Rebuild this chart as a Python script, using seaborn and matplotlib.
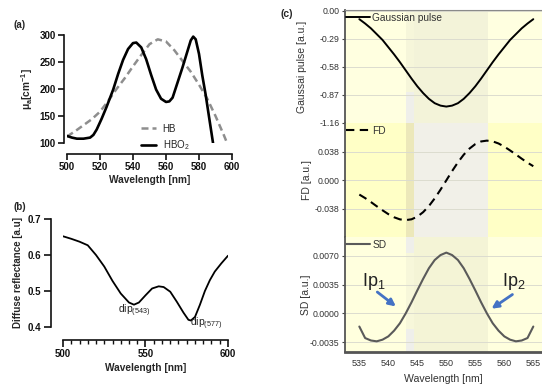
import matplotlib
matplotlib.use('Agg')
import matplotlib.pyplot as plt
import seaborn as sns
from matplotlib.lines import Line2D

sns.set_style('ticks')
plt.rcParams['font.family'] = ['Liberation Sans', 'DejaVu Sans']
plt.rcParams['mathtext.fontset'] = 'custom'
plt.rcParams['mathtext.rm'] = 'Liberation Sans'
plt.rcParams['mathtext.it'] = 'Liberation Sans:italic'
plt.rcParams['mathtext.bf'] = 'Liberation Sans:bold'

# ---------------- data ----------------
# (a) absorption spectra
hb_wl = [500, 505, 510, 515, 520, 525, 530, 535, 540, 545, 550, 555, 560, 565, 570, 575, 580, 585, 590, 595, 597]
hb_mua = [112, 122, 133, 144, 158, 178, 200, 220, 242, 263, 283, 292, 288, 272, 252, 232, 208, 182, 150, 115, 100]
hbo2_wl = [500, 503, 506, 510, 514, 516, 518, 521, 524, 528, 531, 534, 537, 540, 542, 545, 548, 551, 554, 557,
           560, 562, 564, 567, 570, 573, 575, 576.5, 578, 580, 582, 584, 586, 588, 588.5]
hbo2_mua = [113, 110, 108, 108, 110, 115, 125, 145, 167, 199, 228, 254, 274, 285, 286, 277, 255, 226, 199, 182,
            176, 177, 184, 212, 240, 270, 290, 297, 292, 265, 225, 190, 150, 110, 100]

# (b) diffuse reflectance
refl_wl = [500, 505, 510, 515, 520, 525, 530, 535, 540, 543, 546, 550, 554, 558, 561, 565, 569, 573, 576,
           577.5, 580, 583, 586, 589, 592, 596, 600]
refl_val = [0.652, 0.645, 0.637, 0.627, 0.600, 0.568, 0.528, 0.493, 0.468, 0.462, 0.468, 0.488, 0.507, 0.513,
            0.511, 0.498, 0.470, 0.440, 0.420, 0.418, 0.428, 0.462, 0.500, 0.530, 0.554, 0.577, 0.598]

# (c) pulse and derivatives
c_wl = list(range(535, 566))
gauss = [-0.085, -0.13, -0.18, -0.24, -0.30, -0.375, -0.45, -0.53, -0.615, -0.70, -0.78, -0.85, -0.91, -0.955,
         -0.98, -0.99, -0.98, -0.955, -0.91, -0.85, -0.78, -0.70, -0.615, -0.53, -0.45, -0.375, -0.30, -0.24,
         -0.18, -0.13, -0.085]
fd = [-0.0189, -0.0236, -0.0289, -0.0345, -0.0399, -0.0450, -0.0492, -0.0520, -0.0530, -0.0519, -0.0484,
      -0.0424, -0.0342, -0.0240, -0.0124, 0.0, 0.0124, 0.0240, 0.0342, 0.0424, 0.0484, 0.0519, 0.0530, 0.0520,
      0.0492, 0.0450, 0.0399, 0.0345, 0.0289, 0.0236, 0.0189]
sd = [-0.0016, -0.0030, -0.0033, -0.0034, -0.0032, -0.0028, -0.0021, -0.0012, 0.0, 0.00135, 0.0028, 0.0042,
      0.0055, 0.0065, 0.0071, 0.0074, 0.0071, 0.0065, 0.0055, 0.0042, 0.0028, 0.00135, 0.0, -0.0012, -0.0021,
      -0.0028, -0.0032, -0.0034, -0.0033, -0.0030, -0.0016]

g_ticks = [-1.16, -0.87, -0.58, -0.29, 0.00]
g_labels = ['-1.16', '-0.87', '-0.58', '-0.29', '0.00']
fd_ticks = [-0.038, 0.0, 0.038]
fd_labels = ['-0.038', '0.000', '0.038']
sd_ticks = [-0.0035, 0.0, 0.0035, 0.0070]
sd_labels = ['-0.0035', '0.0000', '0.0035', '0.0070']
c_xticks = [535, 540, 545, 550, 555, 560, 565]

W, H = 542, 390
fig = plt.figure(figsize=(W / 100, H / 100), dpi=100)


def px_axes(left, top, right, bottom):
    return fig.add_axes([left / W, 1 - bottom / H, (right - left) / W, (bottom - top) / H])


bold = dict(fontweight='bold')
dark = '#111111'

# ---------------- panel (a) ----------------
axa = px_axes(67, 35, 232, 143)
sns.lineplot(x=hb_wl, y=hb_mua, ax=axa, color='#8e8e8e', lw=1.8, linestyle=(0, (2.8, 1.6)), sort=False)
sns.lineplot(x=hbo2_wl, y=hbo2_mua, ax=axa, color='black', lw=1.9, sort=False)
axa.set_xlim(500, 600)
axa.set_ylim(100, 300)
axa.set_xticks([500, 520, 540, 560, 580, 600])
axa.set_yticks([100, 150, 200, 250, 300])
for s in ['top', 'right']:
    axa.spines[s].set_visible(False)
axa.spines['bottom'].set_position(('outward', 8))
axa.spines['left'].set_position(('outward', 2))
for s in ['bottom', 'left']:
    axa.spines[s].set_linewidth(1.2)
    axa.spines[s].set_color(dark)
axa.tick_params(length=4, width=1.2, labelsize=7, pad=2, colors=dark)
for lab in axa.get_xticklabels() + axa.get_yticklabels():
    lab.set_fontweight('bold')
axa.set_xlabel('Wavelength [nm]', fontsize=7.3, labelpad=2, **bold)
axa.set_ylabel('μ$_\\mathbf{a}$[cm$^\\mathbf{-1}$]', fontsize=7.3, labelpad=3, **bold)
hdl = [Line2D([], [], color='#8e8e8e', lw=1.8, linestyle=(0, (2.8, 1.6))),
       Line2D([], [], color='black', lw=1.9)]
axa.legend(hdl, ['HB', 'HBO$_2$'], loc='upper left', bbox_to_anchor=(0.45, 0.18), frameon=False,
           fontsize=7, handlelength=1.5, handletextpad=0.7, labelspacing=0.45, borderaxespad=0, borderpad=0)
fig.text(14 / W, 1 - 25 / H, '(a)', fontsize=7, va='center', ha='left', **bold)

# ---------------- panel (b) ----------------
axb = px_axes(63, 219, 228, 327)
sns.lineplot(x=refl_wl, y=refl_val, ax=axb, color='black', lw=1.3, sort=False)
axb.set_xlim(500, 600)
axb.set_ylim(0.4, 0.7)
axb.set_xticks([500, 550, 600])
axb.set_xticks(list(range(505, 600, 5)), minor=True)
axb.set_yticks([0.4, 0.5, 0.6, 0.7])
for s in ['top', 'right']:
    axb.spines[s].set_visible(False)
axb.spines['bottom'].set_position(('outward', 9))
axb.spines['left'].set_position(('outward', 9))
for s in ['bottom', 'left']:
    axb.spines[s].set_linewidth(1.2)
    axb.spines[s].set_color(dark)
axb.tick_params(which='major', length=5, width=1.2, labelsize=7, pad=2, colors=dark)
axb.tick_params(which='minor', length=3, width=1.0, colors=dark)
for lab in axb.get_xticklabels() + axb.get_yticklabels():
    lab.set_fontweight('bold')
axb.set_xlabel('Wavelength [nm]', fontsize=7.3, labelpad=3, **bold)
axb.set_ylabel('Diffuse reflectance [a.u]', fontsize=7, labelpad=3, **bold)
axb.text(533.5, 0.446, 'dip$_{(543)}$', fontsize=7.5, color='#222222', va='center', ha='left')
axb.text(577.0, 0.408, 'dip$_{(577)}$', fontsize=7.5, color='#222222', va='center', ha='left')
fig.text(14 / W, 1 - 207 / H, '(b)', fontsize=7, va='center', ha='left', **bold)

# ---------------- panel (c) ----------------
xl, xr = 532.53, 566.5
axg = px_axes(345, 10, 542, 123)
axf = px_axes(345, 123, 542, 237)
axs = px_axes(345, 237, 542, 352)
b1, b2, b3 = 543.0, 544.5, 557.2
spans = [(xl, b1), (b1, b2), (b2, b3), (b3, xr)]
bg = {
    'g': ['#FFFFE0', '#F6F6DA', '#F3F3D9', '#FFFFE0'],
    'f': ['#FFFFC6', '#ECE8BA', '#F1F0E8', '#FFFFC6'],
    's': ['#FFFFDE', '#F7F7DA', '#F4F4D6', '#FFFFDE'],
}
for ax, key in [(axg, 'g'), (axf, 'f'), (axs, 's')]:
    for (a0, a1), col in zip(spans, bg[key]):
        ax.axvspan(a0, a1, color=col, lw=0, zorder=0)
axg.axvspan(b1, b2, ymin=0, ymax=0.27, color='#EFEFEA', lw=0, zorder=0)
axs.axvspan(b1, b2, ymin=0.86, ymax=1, color='#EFEFEA', lw=0, zorder=0)
axs.axvspan(b1, b2, ymin=0, ymax=0.2, color='#EFEFEA', lw=0, zorder=0)

sns.lineplot(x=c_wl, y=gauss, ax=axg, color='black', lw=1.4, zorder=3)
sns.lineplot(x=c_wl, y=fd, ax=axf, color='black', lw=1.5, linestyle=(0, (4, 2.6)), zorder=3)
sns.lineplot(x=c_wl, y=sd, ax=axs, color='#5a5a5a', lw=1.5, zorder=3)

axg.set_ylim(-1.16, 0.01)
axf.set_ylim(-0.0755, 0.0765)
axs.set_ylim(-0.0047, 0.0093)
axg.set_yticks(g_ticks, g_labels)
axf.set_yticks(fd_ticks, fd_labels)
axs.set_yticks(sd_ticks, sd_labels)

txtc = '#333333'
for ax in (axg, axf, axs):
    ax.set_xlim(xl, xr)
    ax.set_axisbelow(True)
    ax.yaxis.grid(True, color='#DCDCCF', lw=0.7, zorder=1)
    ax.xaxis.grid(False)
    ax.tick_params(axis='y', length=2, width=0.8, labelsize=6.3, pad=2, colors='#444444', labelcolor=txtc)
    for s in ['top', 'right', 'bottom']:
        ax.spines[s].set_visible(False)
    ax.spines['left'].set_color('#555555')
    ax.spines['left'].set_linewidth(1.3)
    ax.set_xlabel('')
for ax in (axg, axf):
    ax.set_xticks(c_xticks)
    ax.tick_params(axis='x', length=0, labelbottom=False)
axg.spines['top'].set_visible(True)
axg.spines['top'].set_color('#8a8a8a')
axg.spines['top'].set_linewidth(0.8)
axs.spines['bottom'].set_visible(True)
axs.spines['bottom'].set_color('#555555')
axs.spines['bottom'].set_linewidth(2)
axs.set_xticks(c_xticks)
axs.tick_params(axis='x', length=0, labelsize=6.5, pad=5, labelcolor=txtc)
axs.set_xlabel('Wavelength [nm]', fontsize=7.6, color=txtc, labelpad=4)

axg.set_ylabel('Gaussai pulse [a.u.]', fontsize=7.5, color=txtc)
axf.set_ylabel('FD [a.u.]', fontsize=7.5, color=txtc)
axs.set_ylabel('SD [a.u.]', fontsize=7.5, color=txtc)
axg.yaxis.set_label_coords(-0.193, 0.5)
axf.yaxis.set_label_coords(-0.17, 0.5)
axs.yaxis.set_label_coords(-0.175, 0.5)

leg_kw = dict(loc='upper left', bbox_to_anchor=(0.0, 0.985), frameon=False, fontsize=7.3,
              handlelength=2.4, handletextpad=0.2, borderaxespad=0, borderpad=0.1)
axg.legend([Line2D([], [], color='black', lw=1.4)], ['Gaussian pulse'], **leg_kw)
axf.legend([Line2D([], [], color='black', lw=1.5, linestyle=(0, (4, 2.6)))], ['FD'], **leg_kw)
axs.legend([Line2D([], [], color='#5a5a5a', lw=1.5)], ['SD'], **leg_kw)
for ax in (axg, axf, axs):
    for t in ax.get_legend().get_texts():
        t.set_color(txtc)

arrow_kw = dict(arrowstyle='-|>', color='#4472C4', lw=2.0, mutation_scale=10, shrinkA=0, shrinkB=0)
axs.text(537.5, 0.0039, 'Ip$_1$', fontsize=13, color='#222222', ha='center', va='center', zorder=5)
axs.annotate('', xy=(541.3, 0.00085), xytext=(538.1, 0.0026), arrowprops=arrow_kw, zorder=5)
axs.text(561.6, 0.0039, 'Ip$_2$', fontsize=13, color='#222222', ha='center', va='center', zorder=5)
axs.annotate('', xy=(557.8, 0.00057), xytext=(561.4, 0.0023), arrowprops=arrow_kw, zorder=5)

fig.text(287 / W, 1 - 14 / H, '(c)', fontsize=7.5, va='center', ha='center', **bold)

fig.savefig('out.png', dpi=100)
